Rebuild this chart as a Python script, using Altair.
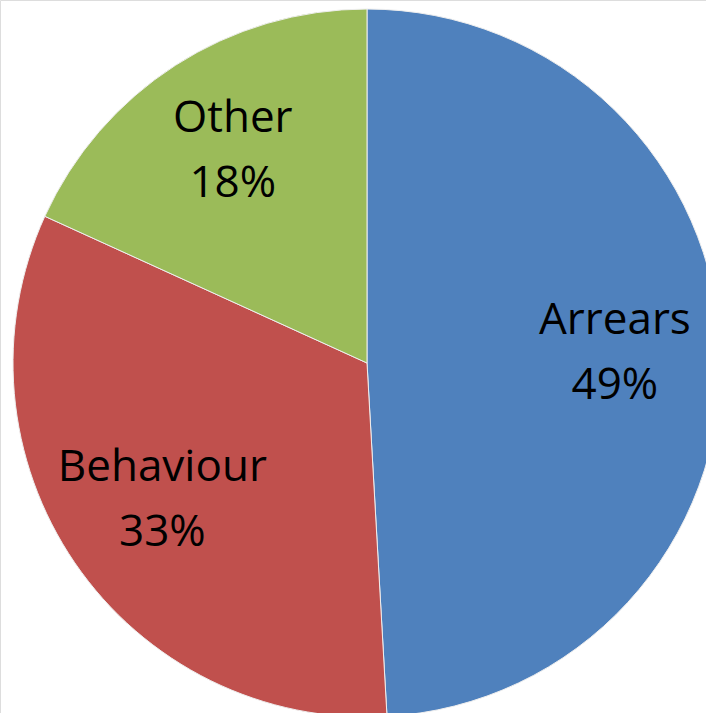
import altair as alt
import pandas as pd

categories = ["Arrears", "Behaviour", "Other"]
values = [49.1, 32.7, 18.2]
pct_labels = ["49%", "33%", "18%"]
colors = ["#4F81BD", "#C0504D", "#9BBB59"]

df = pd.DataFrame({
    "category": categories,
    "value": values,
    "label": [c + "\n" + p for c, p in zip(categories, pct_labels)],
    "order": list(range(len(categories))),
})

base = alt.Chart(df).encode(
    theta=alt.Theta("value:Q", stack=True),
    order=alt.Order("order:Q"),
    x=alt.value(367),
    y=alt.value(363),
)

arcs = base.mark_arc(outerRadius=354, stroke="#EEEEEE", strokeWidth=1).encode(
    color=alt.Color("category:N", scale=alt.Scale(domain=categories, range=colors), legend=None)
)

text = base.mark_text(radius=248, fontSize=44, font="Open Sans", lineBreak="\n",
                      lineHeight=65, baseline="middle", align="center", color="black",
                      dy=-35).encode(
    text="label:N"
)

chart = (arcs + text).properties(width=706, height=713, padding=0,
                                 autosize=alt.AutoSizeParams(type="none")
                                 ).configure_view(stroke=None).configure(background="white")

chart.save("out.html", embed_options={"renderer": "svg", "actions": False})
